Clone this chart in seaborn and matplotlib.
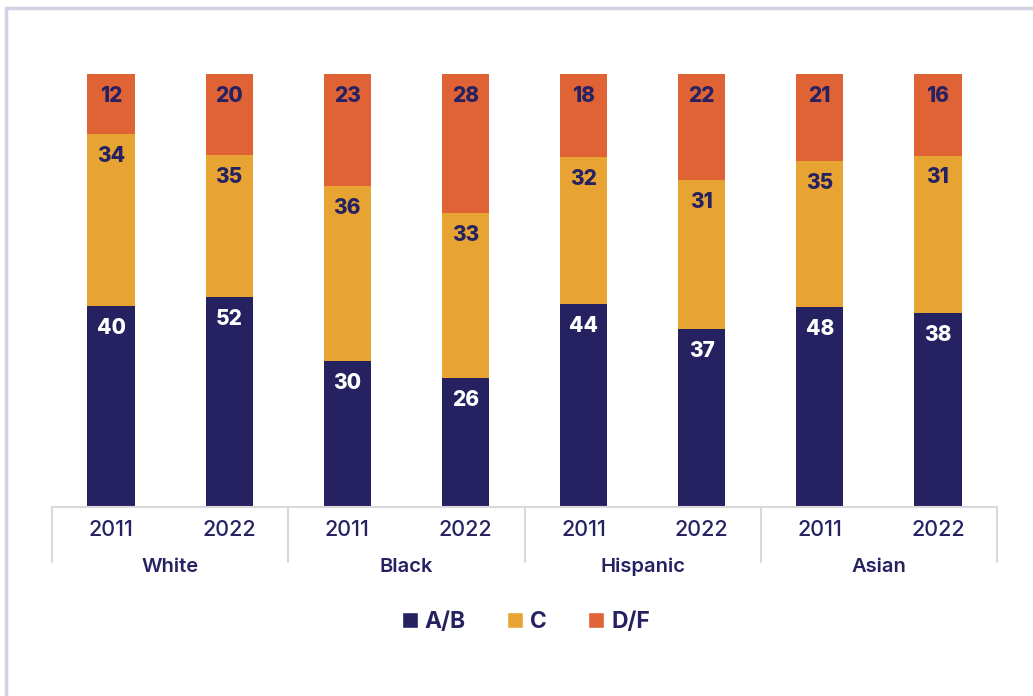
import matplotlib
matplotlib.use("Agg")
import matplotlib.pyplot as plt
from matplotlib.patches import Rectangle, Patch
from matplotlib.lines import Line2D
import numpy as np
import pandas as pd
import seaborn as sns

# Grade distribution by group and year (percent)
groups = ["White", "Black", "Hispanic", "Asian"]
years = ["2011", "2022"]
grade_ab = [40, 52, 30, 26, 44, 37, 48, 38]
grade_c = [34, 35, 36, 33, 32, 31, 35, 31]
grade_df = [12, 20, 23, 28, 18, 22, 21, 16]

NAVY = "#262262"
GOLD = "#E8A433"
ORANGE = "#E06336"
GRID = "#D9D9D9"

sns.set_theme(style="white")
plt.rcParams["font.family"] = ["Inter", "DejaVu Sans"]

slots = [f"{g} {y}" for g in groups for y in years]
ab = np.array(grade_ab, float)
c = np.array(grade_c, float)
df_ = np.array(grade_df, float)
total = ab + c + df_
share_ab = ab / total
share_c = c / total
share_df = df_ / total

data = pd.DataFrame({
    "slot": slots,
    "top_df": share_ab + share_c + share_df,
    "top_c": share_ab + share_c,
    "top_ab": share_ab,
})

fig = plt.figure(figsize=(10.33, 6.96), dpi=100)
ax = fig.add_axes([52 / 1033, 1 - 507 / 696, 945 / 1033, 433 / 696])

for col, colr in [("top_df", ORANGE), ("top_c", GOLD), ("top_ab", NAVY)]:
    sns.barplot(data=data, x="slot", y=col, order=slots, color=colr,
                width=0.4, saturation=1, ax=ax, edgecolor="none")

ax.set_xlim(-0.5, len(slots) - 0.5)
ax.set_ylim(0, 1)
ax.set_xlabel("")
ax.set_ylabel("")
ax.set_yticks([])
ax.set_xticks([])
for s in ax.spines.values():
    s.set_visible(False)

# Segment value labels, anchored just inside the top of each segment
for i in range(len(slots)):
    tops = [share_ab[i], share_ab[i] + share_c[i],
            share_ab[i] + share_c[i] + share_df[i]]
    vals = [grade_ab[i], grade_c[i], grade_df[i]]
    cols = ["white", NAVY, NAVY]
    for t, v, tc in zip(tops, vals, cols):
        ax.annotate(f"{v}", xy=(i, t), xytext=(0, -15.8),
                    textcoords="offset points", ha="center", va="center",
                    color=tc, fontsize=15, fontweight="heavy")

# Category axis: baseline, group dividers, year and group labels
trans = ax.get_xaxis_transform()
ax.add_line(Line2D([-0.5, len(slots) - 0.5], [0, 0], transform=trans,
                   color=GRID, lw=1.5, clip_on=False))
div_bottom = -(562 - 507) / 433
for k in range(len(groups) + 1):
    xk = -0.5 + 2 * k
    ax.add_line(Line2D([xk, xk], [0, div_bottom], transform=trans,
                       color=GRID, lw=1.5, clip_on=False))
for i, s in enumerate(slots):
    ax.text(i, -(530 - 507) / 433, s.split()[1], transform=trans,
            ha="center", va="center", color=NAVY, fontsize=15.5,
            fontweight="medium")
for k, g in enumerate(groups):
    ax.text(0.5 + 2 * k, -(567 - 507) / 433, g, transform=trans,
            ha="center", va="center", color=NAVY, fontsize=14.5,
            fontweight="semibold")

# Legend
handles = [Patch(facecolor=NAVY, label="A/B"),
           Patch(facecolor=GOLD, label="C"),
           Patch(facecolor=ORANGE, label="D/F")]
leg = fig.legend(handles=handles, loc="center", ncol=3,
                 bbox_to_anchor=(526 / 1033, 1 - 622 / 696), frameon=False,
                 handlelength=0.7, handleheight=0.7, handletextpad=0.3,
                 columnspacing=1.8, fontsize=16.5)
for t in leg.get_texts():
    t.set_color(NAVY)
    t.set_fontweight("bold")

# Outer frame
fig.patches.append(Rectangle((6 / 1033, -0.05), 1.1, 1 - 8 / 696 + 0.05,
                             transform=fig.transFigure, fill=False,
                             edgecolor="#D3D1E2", lw=2.5, zorder=0))

fig.savefig("out.png", dpi=100)
